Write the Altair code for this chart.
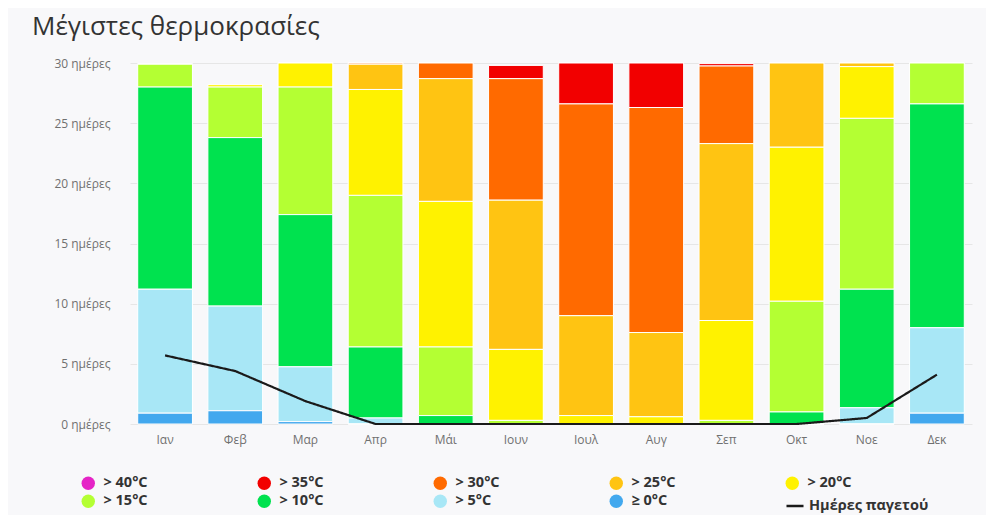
import altair as alt
import pandas as pd

months = ["Ιαν", "Φεβ", "Μαρ", "Απρ", "Μάι", "Ιουν", "Ιουλ", "Αυγ", "Σεπ", "Οκτ", "Νοε", "Δεκ"]
categories = ["> 40°C", "> 35°C", "> 30°C", "> 25°C", "> 20°C", "> 15°C", "> 10°C", "> 5°C", "≥ 0°C"]
colors = ["#e524c6", "#f20000", "#ff6a00", "#ffc412", "#fff200", "#b4ff33", "#00e24f", "#a8e7f6", "#42a8ee"]
frost_label = "Ημέρες παγετού"

gt40 = [0, 0, 0, 0, 0, 0, 0, 0, 0, 0, 0, 0]
gt35 = [0, 0, 0, 0, 0, 1.1, 3.4, 3.7, 0.2, 0, 0, 0]
gt30 = [0, 0, 0, 0.1, 1.3, 10.1, 17.6, 18.7, 6.45, 0, 0, 0]
gt25 = [0, 0, 0, 2.1, 10.2, 12.4, 8.3, 7.0, 14.7, 7.0, 0.3, 0]
gt20 = [0, 0.2, 2.0, 8.8, 12.1, 5.9, 0.7, 0.6, 8.3, 12.8, 4.3, 0]
gt15 = [1.9, 4.2, 10.6, 12.6, 5.7, 0.3, 0, 0, 0.3, 9.2, 14.2, 3.4]
gt10 = [16.8, 14.0, 12.65, 5.9, 0.7, 0, 0, 0, 0, 1.0, 9.85, 18.6]
gt5 = [10.3, 8.7, 4.55, 0.5, 0, 0, 0, 0, 0, 0, 1.35, 7.1]
ge0 = [0.9, 1.1, 0.2, 0, 0, 0, 0, 0, 0, 0, 0, 0.9]
frost = [5.7, 4.4, 1.9, 0, 0, 0, 0, 0, 0, 0, 0.5, 4.1]

series = [gt40, gt35, gt30, gt25, gt20, gt15, gt10, gt5, ge0]
rows = []
for ci, (cat, vals) in enumerate(zip(categories, series)):
    for m, v in zip(months, vals):
        rows.append({"month": m, "cat": cat, "days": v, "order": len(categories) - ci})
bars_df = pd.DataFrame(rows)
line_df = pd.DataFrame({"month": months, "days": frost, "series": [frost_label] * len(months)})

FONT = "Open Sans"

color_legend = alt.Legend(
    title=None,
    orient="none",
    legendX=-49,
    legendY=413,
    columns=5,
    direction="horizontal",
    symbolType="circle",
    symbolSize=180,
    symbolStrokeWidth=0,
    labelFont=FONT,
    labelFontSize=14.5,
    labelFontWeight="bold",
    labelColor="#333333",
    labelOffset=8,
    columnPadding=109,
    rowPadding=3,
    gridAlign="all",
    labelLimit=200,
    symbolOpacity=1,
)

line_legend = alt.Legend(
    title=None,
    orient="none",
    legendX=655,
    legendY=433,
    symbolType="stroke",
    symbolSize=290,
    symbolStrokeColor="#1a1a1a",
    symbolStrokeWidth=2.5,
    labelFont=FONT,
    labelFontSize=14.5,
    labelFontWeight="bold",
    labelColor="#333333",
    labelOffset=4,
    labelLimit=200,
)

x_enc = alt.X(
    "month:N",
    sort=months,
    title=None,
    scale=alt.Scale(paddingInner=0.22, paddingOuter=0.11),
    axis=alt.Axis(labelAngle=0, ticks=False, domain=False, labelPadding=10,
                  labelFont=FONT, labelFontSize=12, labelColor="#707070"),
)

bars = alt.Chart(bars_df).mark_bar(stroke="white", strokeWidth=1).encode(
    x=x_enc,
    y=alt.Y(
        "days:Q",
        stack="zero",
        title=None,
        scale=alt.Scale(domain=[0, 30], nice=False, clamp=True),
        axis=alt.Axis(values=[0, 5, 10, 15, 20, 25, 30], labelExpr="datum.value + ' ημέρες'",
                      ticks=False, domain=False, labelPadding=20, gridColor="#e6e6e6",
                      labelFont=FONT, labelFontSize=12, labelColor="#707070"),
    ),
    color=alt.Color("cat:N", scale=alt.Scale(domain=categories, range=colors), legend=color_legend),
    order=alt.Order("order:Q", sort="ascending"),
)

line = alt.Chart(line_df).mark_line(strokeWidth=2.2, color="#1a1a1a").encode(
    x=alt.X("month:N", sort=months),
    y=alt.Y("days:Q"),
    strokeDash=alt.StrokeDash("series:N", scale=alt.Scale(domain=[frost_label], range=[[1, 0]]),
                              legend=line_legend),
)

chart = (
    alt.layer(bars, line)
    .resolve_legend(color="independent", strokeDash="independent")
    .properties(
        width=842,
        height=361,
        autosize=alt.AutoSizeParams(type="none"),
        padding={"left": 122, "top": 55, "right": 14, "bottom": 100},
        background="#f8f8fa",
        title=alt.Title(
            "Μέγιστες θερμοκρασίες",
            anchor="start",
            frame="group",
            dx=-98,
            offset=17,
            font=FONT,
            fontSize=26,
            fontWeight="normal",
            color="#333333",
        ),
    )
    .configure_view(stroke=None)
)

chart.save("out.html", embed_options={"renderer": "svg", "actions": False})
